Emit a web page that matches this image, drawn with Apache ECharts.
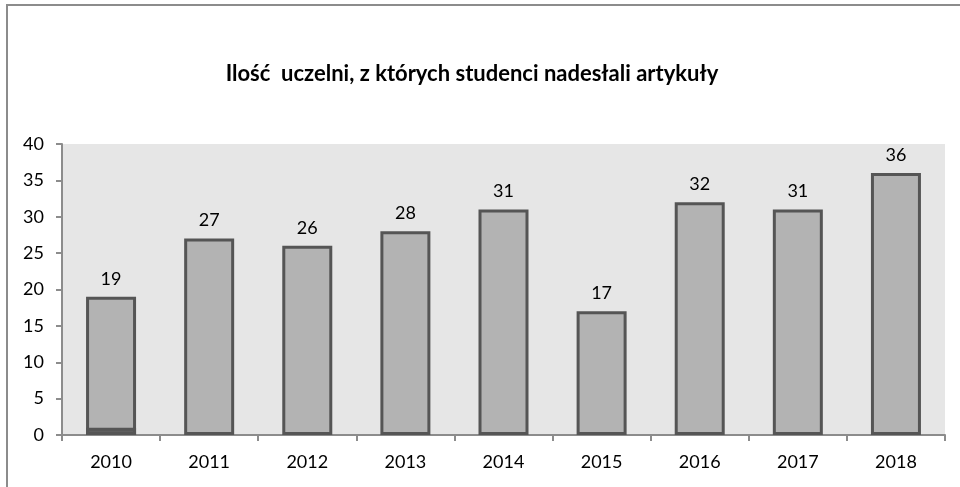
<!DOCTYPE html>
<html>
<head>
<meta charset="utf-8">
<script src="https://cdn.jsdelivr.net/npm/echarts@6/dist/echarts.min.js"></script>
<style>
  html, body { margin: 0; padding: 0; background: #fff; }
  #frame { position: absolute; left: 6px; top: 4px; right: 0; bottom: 0; border-left: 2px solid #8c8c8c; border-top: 2px solid #8c8c8c; }
  #chart { width: 960px; height: 487px; }
</style>
</head>
<body>
<div id="frame"></div>
<div id="chart"></div>
<script>
const years = ['2010', '2011', '2012', '2013', '2014', '2015', '2016', '2017', '2018'];
const counts = [19, 27, 26, 28, 31, 17, 32, 31, 36];
// ciemny pasek u dołu słupka 2010
const darkPart = [1, null, null, null, null, null, null, null, null];

const chart = echarts.init(document.getElementById('chart'));

chart.setOption({
  animation: false,
  textStyle: { fontFamily: 'Lato, "Open Sans", sans-serif' },
  title: {
    text: 'Ilość  uczelni, z których studenci nadesłali artykuły',
    left: 467,
    textAlign: 'center',
    top: 58,
    textStyle: { fontSize: 22, fontWeight: 'bold', color: '#000', fontFamily: 'Lato, sans-serif' }
  },
  grid: {
    left: 62, right: 15, top: 144, bottom: 52,
    show: true, backgroundColor: '#e6e6e6', borderWidth: 0
  },
  xAxis: {
    type: 'category',
    data: years,
    axisLine: { lineStyle: { color: '#8c8c8c', width: 2 } },
    axisTick: { show: true, length: 6, lineStyle: { color: '#8c8c8c', width: 2 } },
    axisLabel: { color: '#000', fontSize: 18, margin: 18 }
  },
  yAxis: {
    type: 'value',
    min: 0, max: 40, interval: 5,
    axisLine: { show: true, lineStyle: { color: '#8c8c8c', width: 2 } },
    axisTick: { show: true, length: 6, lineStyle: { color: '#8c8c8c', width: 2 } },
    splitLine: { show: false },
    axisLabel: { color: '#000', fontSize: 18, margin: 18 }
  },
  series: [
    {
      type: 'bar',
      data: counts,
      barWidth: 50,
      itemStyle: { color: '#b3b3b3', borderColor: '#555555', borderWidth: 3 },
      label: { show: true, position: 'top', distance: 9, color: '#000', fontSize: 18 }
    },
    {
      type: 'bar',
      data: darkPart,
      barWidth: 50,
      barGap: '-100%',
      itemStyle: { color: '#5e5e5e', borderColor: '#555555', borderWidth: 3 }
    }
  ]
});
</script>
</body>
</html>
